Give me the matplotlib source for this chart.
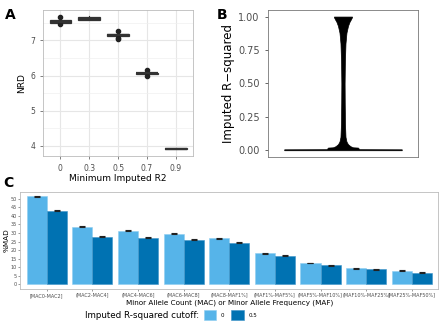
import numpy as np
import matplotlib.pyplot as plt

# ---- Panel A data (NRD boxplots by minimum imputed R2) ----
cutoffs = ["0", "0.3", "0.5", "0.7", "0.9"]
box_q1 = [7.50, 7.58, 7.14, 6.04, 3.91]
box_med = [7.53, 7.62, 7.16, 6.06, 3.92]
box_q3 = [7.57, 7.68, 7.18, 6.08, 3.93]
box_lo = [7.48, 7.57, 7.12, 6.01, 3.91]
box_hi = [7.60, 7.69, 7.20, 6.13, 3.93]
box_out = [[7.68, 7.46], [], [7.28, 7.07, 7.05], [6.15, 6.00], []]

# ---- Panel B data (violin profile of imputed R-squared) ----
violin_y = [0.0, 0.007, 0.008, 0.02, 0.022, 0.03, 0.045, 0.065, 0.10, 0.20, 0.35,
            0.50, 0.65, 0.80, 0.88, 0.93, 0.96, 0.98, 0.995, 1.0]
violin_half = [0.47, 0.47, 0.13, 0.12, 0.08, 0.06, 0.04, 0.028, 0.02, 0.016, 0.014,
               0.013, 0.015, 0.02, 0.028, 0.04, 0.052, 0.064, 0.072, 0.072]

# ---- Panel C data (%MAD by MAC/MAF bin) ----
bins = ["[MAC0-MAC2]", "(MAC2-MAC4]", "(MAC4-MAC6]", "(MAC6-MAC8]", "(MAC8-MAF1%]",
        "(MAF1%-MAF5%]", "(MAF5%-MAF10%]", "(MAF10%-MAF25%]", "(MAF25%-MAF50%]"]
mad_0 = [51.3, 33.6, 31.4, 29.4, 26.9, 18.2, 12.4, 9.3, 8.1]
mad_05 = [43.0, 27.7, 27.2, 26.0, 24.3, 16.8, 11.2, 8.7, 6.9]
err_0 = [0.3, 0.3, 0.3, 0.3, 0.3, 0.2, 0.2, 0.2, 0.2]
err_05 = [0.3, 0.3, 0.3, 0.3, 0.3, 0.2, 0.2, 0.2, 0.2]

c_light = "#56B4E9"
c_dark = "#0072B2"
grey_txt = "#4D4D4D"

fig = plt.figure(figsize=(4.4, 3.29), dpi=100)

# =======================
# A) boxplots
# =======================
axA = fig.add_axes([0.098, 0.526, 0.341, 0.444])
stats = []
for i in range(len(cutoffs)):
    stats.append(dict(q1=box_q1[i], med=box_med[i], q3=box_q3[i],
                      whislo=box_lo[i], whishi=box_hi[i], fliers=box_out[i]))
axA.bxp(stats, positions=range(len(cutoffs)), widths=0.75, patch_artist=True,
        showcaps=False,
        boxprops=dict(facecolor="white", edgecolor="#333333", linewidth=0.9),
        medianprops=dict(color="#333333", linewidth=1.6),
        whiskerprops=dict(color="#333333", linewidth=0.8),
        flierprops=dict(marker="o", markersize=3, markerfacecolor="#222222",
                        markeredgecolor="#222222"))
axA.set_xlim(-0.6, 4.6)
axA.set_ylim(3.71, 7.87)
axA.set_yticks([4, 5, 6, 7])
axA.set_yticks([4.5, 5.5, 6.5, 7.5], minor=True)
axA.set_xticks(range(len(cutoffs)))
axA.set_xticklabels(cutoffs)
axA.grid(True, which="major", color="#E6E6E6", linewidth=0.8)
axA.grid(True, which="minor", axis="y", color="#F0F0F0", linewidth=0.5)
axA.set_axisbelow(True)
axA.tick_params(labelsize=5.5, colors=grey_txt, length=2, width=0.5)
axA.tick_params(which="minor", length=0)
for s in axA.spines.values():
    s.set_color("#BBBBBB")
    s.set_linewidth(0.6)
axA.set_xlabel("Minimum Imputed R2", fontsize=6.5, labelpad=1)
axA.set_ylabel("NRD", fontsize=6.5, labelpad=3)

# =======================
# B) violin
# =======================
axB = fig.add_axes([0.609, 0.523, 0.341, 0.447])
vy = np.array(violin_y)
vh = np.array(violin_half)
axB.fill_betweenx(vy, 1 - vh, 1 + vh, color="black", linewidth=0.5, edgecolor="black")
axB.set_xlim(0.4, 1.6)
axB.set_ylim(-0.05, 1.05)
axB.set_yticks([0, 0.25, 0.5, 0.75, 1.0])
axB.set_yticklabels(["0.00", "0.25", "0.50", "0.75", "1.00"])
axB.set_xticks([])
axB.tick_params(labelsize=7, colors=grey_txt, length=2.5, width=0.6)
for s in axB.spines.values():
    s.set_color("#777777")
    s.set_linewidth(0.6)
axB.set_ylabel("Imputed R\u2212squared", fontsize=8.5, labelpad=2)

# =======================
# C) grouped bars
# =======================
axC = fig.add_axes([0.046, 0.122, 0.950, 0.294])
x = np.arange(len(bins))
w = 0.44
b0 = axC.bar(x - w / 2, mad_0, w, color=c_light, edgecolor="#8FCDF0", linewidth=0.4, label="0")
b5 = axC.bar(x + w / 2, mad_05, w, color=c_dark, edgecolor="#3E94C8", linewidth=0.4, label="0.5")
axC.errorbar(x - w / 2, mad_0, yerr=err_0, fmt="none", ecolor="#222222",
             elinewidth=0.8, capsize=2, capthick=0.8)
axC.errorbar(x + w / 2, mad_05, yerr=err_05, fmt="none", ecolor="#222222",
             elinewidth=0.8, capsize=2, capthick=0.8)
axC.set_xlim(-0.58, len(bins) - 0.42)
axC.set_ylim(-2.6, 53.8)
axC.set_yticks(range(0, 55, 5))
axC.set_xticks(x)
axC.set_xticklabels(bins)
axC.tick_params(axis="x", labelsize=3.5, colors=grey_txt, length=1.5, width=0.4, pad=1.5)
axC.tick_params(axis="y", labelsize=3.5, colors=grey_txt, length=1.5, width=0.4, pad=1)
for s in axC.spines.values():
    s.set_color("#BBBBBB")
    s.set_linewidth(0.6)
axC.set_xlabel("Minor Allele Count (MAC) or Minor Allele Frequency (MAF)", fontsize=5.2, labelpad=1)
axC.set_ylabel("%MAD", fontsize=5.2, labelpad=1)

# legend at bottom: title as text, keys right of it
fig.text(0.453, 0.042, "Imputed R-squared cutoff:", fontsize=6.3, ha="right", va="center")
fig.legend(handles=[b0, b5], labels=["0", "0.5"], loc="center left",
           bbox_to_anchor=(0.463, 0.042), ncol=2, frameon=False, fontsize=4,
           handlelength=2.3, handleheight=2.3, handletextpad=0.8,
           columnspacing=1.2, borderpad=0, borderaxespad=0)

# panel letters
fig.text(0.012, 0.975, "A", fontsize=10, fontweight="bold", va="top")
fig.text(0.493, 0.975, "B", fontsize=10, fontweight="bold", va="top")
fig.text(0.008, 0.465, "C", fontsize=10, fontweight="bold", va="top")

fig.savefig("out.png", dpi=100)
